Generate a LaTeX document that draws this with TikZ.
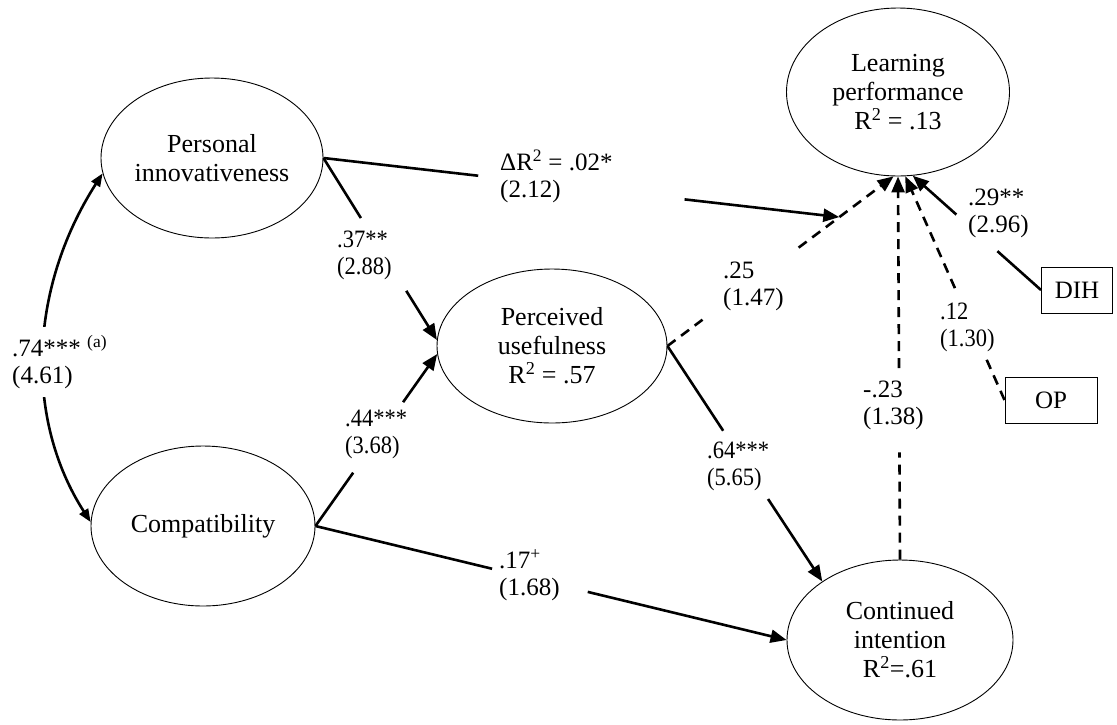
\documentclass[tikz,border=0pt]{standalone}
\usepackage{fontspec}
\setmainfont{Liberation Serif}
\usepackage{graphicx}
\usetikzlibrary{arrows.meta,calc,shapes.geometric}
\newcommand\cnd[1]{\scalebox{0.9}[1]{#1}}
\begin{document}
\begin{tikzpicture}[x=1pt,y=-1pt,
  lat/.style={draw,ellipse,line width=0.9pt,inner sep=0pt,align=center,font=\fontsize{26}{29}\selectfont},
  obs/.style={draw,rectangle,line width=1pt,inner sep=0pt,font=\fontsize{25}{27}\selectfont},
  lab/.style={anchor=west,align=left,inner sep=0pt,font=\fontsize{25}{27}\selectfont},
  ln/.style={line width=2.6pt},
  dsh/.style={line width=2.6pt,dash pattern=on 10pt off 7pt},
  tip/.style={-{Triangle[length=16pt,width=13pt]}},
  bitip/.style={{Triangle[length=13pt,width=10pt]}-{Triangle[length=13pt,width=10pt]}}
]
\useasboundingbox (0,0) rectangle (1117,724);

% latent variables
\node[lat,minimum width=222pt,minimum height=160pt] (PI) at (212,158) {Personal\\innovativeness};
\node[lat,minimum width=224pt,minimum height=160pt] (CO) at (203,526) {Compatibility};
\node[lat,minimum width=230pt,minimum height=154pt] (PU) at (552,346) {Perceived\\usefulness\\R\textsuperscript{2} = .57};
\node[lat,minimum width=223pt,minimum height=168pt] (LP) at (898,92) {Learning\\performance\\R\textsuperscript{2} = .13};
\node[lat,minimum width=226pt,minimum height=160pt] (CI) at (900,640) {Continued\\intention\\R\textsuperscript{2}=.61};
% observed controls
\node[obs,minimum width=71pt,minimum height=46pt] (DIH) at (1077,290) {DIH};
\node[obs,minimum width=92pt,minimum height=46pt] (OP) at (1051,400) {OP};

% correlation
\draw[ln,bitip] (PI.188) .. controls (28,290) and (25,420) .. (CO.178);
\node[lab,fill=white,inner ysep=8pt] (l74) at (12,362) {.74***~\textsuperscript{(a)}\\(4.61)};

% moderation point on PU -> LP
\coordinate (M) at ($(PU.east)!0.76!(LP.-93)$);

% PI -> M (moderation)
\draw[ln] (PI.east) -- ($(PI.east)!0.30!(M)$);
\draw[ln,tip] ($(PI.east)!0.70!(M)$) -- (M);
\node[lab] (ldr) at (500,176) {ΔR\textsuperscript{2} = .02*\\(2.12)};

% PI -> PU
\draw[ln] (PI.east) -- ($(PI.east)!0.33!(PU.177)$);
\draw[ln,tip] ($(PI.east)!0.73!(PU.177)$) -- (PU.177);
\node[lab] (l37) at (337,255) {\cnd{.37**}\\\cnd{(2.88)}};

% CO -> PU
\draw[ln] (CO.east) -- ($(CO.east)!0.31!(PU.184)$);
\draw[ln,tip] ($(CO.east)!0.72!(PU.184)$) -- (PU.184);
\node[lab] (l44) at (345,434) {\cnd{.44***}\\\cnd{(3.68)}};

% CO -> CI
\draw[ln] (CO.east) -- ($(CO.east)!0.375!(CI.west)$);
\draw[ln,tip] ($(CO.east)!0.578!(CI.west)$) -- (CI.west);
\node[lab] (l17) at (499,575) {.17\textsuperscript{+}\\(1.68)};

% PU -> CI
\draw[ln] (PU.east) -- ($(PU.east)!0.36!(CI.143)$);
\draw[ln,tip] ($(PU.east)!0.65!(CI.143)$) -- (CI.143);
\node[lab] (l64) at (707,466) {\cnd{.64***}\\\cnd{(5.65)}};

% PU -> LP (dashed)
\draw[dsh] (PU.east) -- ($(PU.east)!0.155!(LP.-93)$);
\draw[dsh,tip] ($(PU.east)!0.58!(LP.-93)$) -- (LP.-93);
\node[lab] (l25) at (723,286) {.25\\(1.47)};

% CI -> LP (dashed)
\draw[dsh] (CI.north) -- ($(CI.north)!0.28!(LP.south)$);
\draw[dsh,tip] ($(CI.north)!0.50!(LP.south)$) -- (LP.south);
\node[lab] (l23) at (863,405) {-.23\\(1.38)};

% OP -> LP (dashed)
\draw[dsh] (OP.west) -- ($(OP.west)!0.18!(LP.-85)$);
\draw[dsh,tip] ($(OP.west)!0.50!(LP.-85)$) -- (LP.-85);
\node[lab] (l12) at (940,327) {\cnd{.12}\\\cnd{(1.30)}};

% DIH -> LP
\draw[ln] (DIH.west) -- ($(DIH.west)!0.34!(LP.-80)$);
\draw[ln,tip] ($(DIH.west)!0.66!(LP.-80)$) -- (LP.-80);
\node[lab] (l29) at (968,213) {.29**\\(2.96)};
\end{tikzpicture}
\end{document}
